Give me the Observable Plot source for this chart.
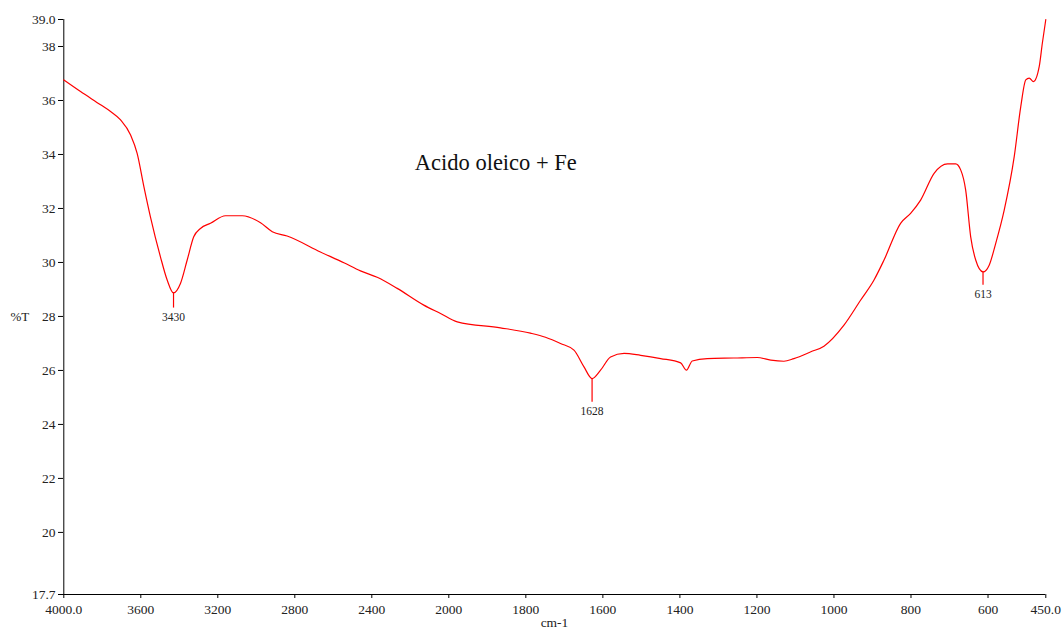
<!DOCTYPE html>
<html>
<head>
<meta charset="utf-8">
<script src="https://cdn.jsdelivr.net/npm/d3@7"></script>
<script src="https://cdn.jsdelivr.net/npm/@observablehq/plot@0.6"></script>
<style>
  html, body { margin: 0; padding: 0; background: #fff; }
  #chart svg { display: block; }
  #chart svg, #chart svg text { font-family: "Liberation Serif", "Times New Roman", serif !important; }
</style>
</head>
<body>
<div id="chart"></div>
<script>
// Spectrum (wavenumber in cm-1, transmittance in %T)
const wavenumber = [4000, 3913, 3809, 3757, 3705, 3653, 3619, 3584, 3550, 3498, 3463, 3430, 3394, 3359, 3325, 3290, 3238, 3160, 3073, 2978, 2917, 2840, 2667, 2545, 2459, 2372, 2268, 2130, 2043, 1978, 1866, 1788, 1749, 1710, 1675, 1649, 1628, 1606, 1580, 1545, 1502, 1450, 1398, 1383, 1368, 1329, 1260, 1199, 1164, 1130, 1104, 1060, 1026, 974, 931, 896, 870, 827, 801, 775, 740, 705, 684, 671, 658, 645, 632, 613, 597, 580, 558, 532, 515, 502, 493, 482, 467, 459, 450];
const transmittance = [36.76, 36.33, 35.84, 35.59, 35.28, 34.72, 34.04, 32.81, 31.69, 30.21, 29.35, 28.87, 29.22, 30.09, 30.95, 31.26, 31.45, 31.73, 31.73, 31.47, 31.14, 30.98, 30.39, 29.99, 29.69, 29.45, 29.04, 28.42, 28.11, 27.80, 27.58, 27.38, 27.23, 27.00, 26.75, 26.13, 25.70, 26.01, 26.50, 26.63, 26.56, 26.44, 26.28, 26.01, 26.35, 26.44, 26.46, 26.48, 26.38, 26.34, 26.44, 26.69, 26.90, 27.68, 28.60, 29.35, 30.09, 31.45, 31.82, 32.31, 33.30, 33.65, 33.65, 33.43, 32.68, 30.95, 30.09, 29.65, 29.90, 30.71, 31.94, 33.92, 35.77, 36.76, 36.83, 36.70, 37.26, 38.12, 39.0];

// Peak annotations
const peakWavenumber = [3430, 1628, 613];
const peakT = [28.87, 25.70, 29.65];
const peakTickEnd = [28.31, 24.82, 29.16];
const peakLabels = ["3430", "1628", "613"];

// Axis ticks
const xTickValues = [4000, 3600, 3200, 2800, 2400, 2000, 1800, 1600, 1400, 1200, 1000, 800, 600, 450];
const xTickLabels = ["4000.0", "3600", "3200", "2800", "2400", "2000", "1800", "1600", "1400", "1200", "1000", "800", "600", "450.0"];
const yTickValues = [17.7, 20, 22, 24, 26, 28, 30, 32, 34, 36, 38, 39.0];
const yTickLabels = ["17.7", "20", "22", "24", "26", "28", "30", "32", "34", "36", "38", "39.0"];

const chartTitle = "Acido oleico + Fe";
const titlePos = {w: 1878, t: 33.68};
const xLabel = "cm-1";
const yLabel = "%T";

const spectrum = wavenumber.map((w, i) => ({w, t: transmittance[i]}));
const peaks = peakWavenumber.map((w, i) => ({w, t: peakT[i], end: peakTickEnd[i], label: peakLabels[i]}));

const xFmt = d => xTickLabels[xTickValues.indexOf(d)];
const yFmt = d => yTickLabels[yTickValues.indexOf(d)];

const chart = Plot.plot({
  width: 1064,
  height: 633,
  marginLeft: 63,
  marginRight: 19,
  marginTop: 19,
  marginBottom: 39,
  style: {fontSize: "13px", color: "#222", background: "#fff"},
  x: {type: "linear", domain: [4000, 2000, 450], range: [63.3, 448.3, 1045.3]},
  y: {domain: [17.7, 39.0]},
  marks: [
    Plot.ruleX([4000], {stroke: "#000", strokeWidth: 1}),
    Plot.ruleY([17.7], {stroke: "#000", strokeWidth: 1}),
    Plot.axisX({ticks: xTickValues, tickFormat: xFmt, tickSize: 4, tickPadding: 6, label: null, fontSize: 13.5, stroke: "#000"}),
    Plot.axisY({ticks: yTickValues, tickFormat: yFmt, tickSize: 5, tickPadding: 3, label: null, fontSize: 13.5, stroke: "#000"}),
    Plot.line(spectrum, {x: "w", y: "t", stroke: "#ff0000", strokeWidth: 1.2, curve: "monotone-x"}),
    Plot.ruleX(peaks, {x: "w", y1: "t", y2: "end", stroke: "#ff0000", strokeWidth: 1.2}),
    Plot.text(peaks, {x: "w", y: "end", text: "label", dy: 9, fontSize: 11.5, fill: "#222"}),
    Plot.text([chartTitle], {x: () => titlePos.w, y: () => titlePos.t, text: d => d, fontSize: 22.5, fill: "#111"}),
    Plot.text([yLabel], {y: () => 28, frameAnchor: "left", textAnchor: "start", dx: -53, text: d => d, fontSize: 13, fill: "#222"}),
    Plot.text([xLabel], {frameAnchor: "bottom", dy: 32, text: d => d, fontSize: 13.5, fill: "#222"})
  ]
});

document.getElementById("chart").appendChild(chart);
</script>
</body>
</html>
